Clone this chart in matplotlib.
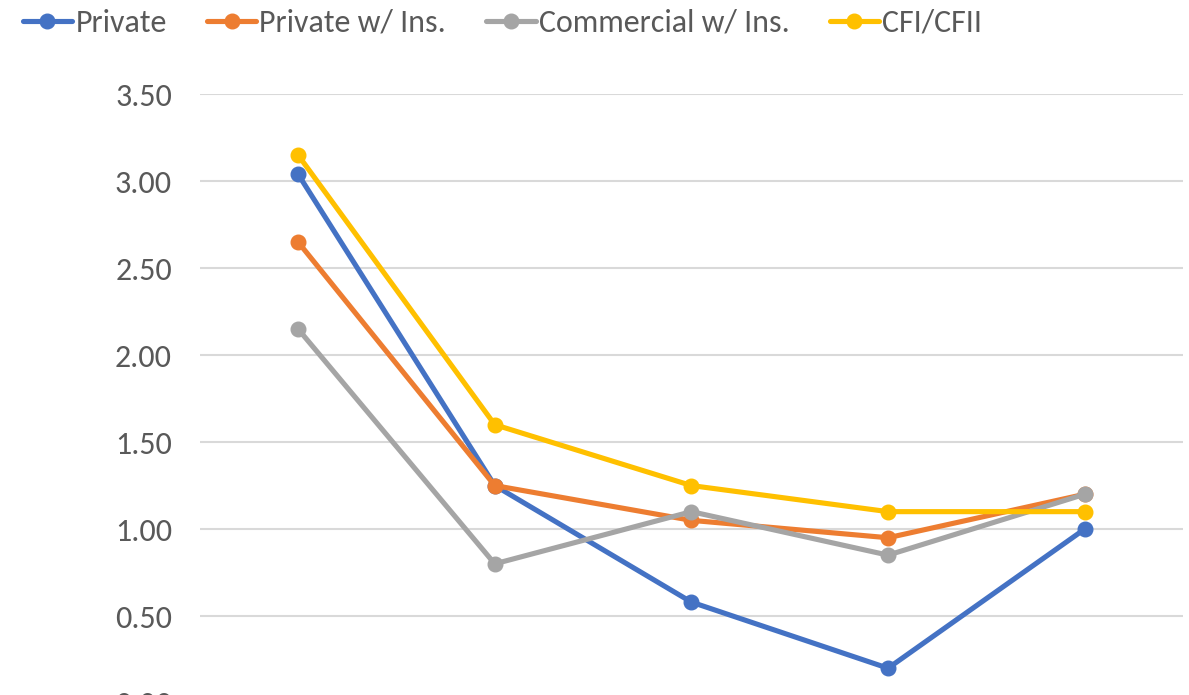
import matplotlib
matplotlib.use("Agg")
import matplotlib.pyplot as plt
import numpy as np

# categories (x labels fall outside the visible crop)
categories = ["1", "2", "3", "4", "5"]

private = [3.04, 1.25, 0.58, 0.20, 1.00]
private_ins = [2.65, 1.25, 1.05, 0.95, 1.20]
commercial_ins = [2.15, 0.80, 1.10, 0.85, 1.20]
cfi_cfii = [3.15, 1.60, 1.25, 1.10, 1.10]

series_names = ["Private", "Private w/ Ins.", "Commercial w/ Ins.", "CFI/CFII"]
series_colors = ["#4472C4", "#ED7D31", "#A5A5A5", "#FFC000"]
yticks = [0.0, 0.5, 1.0, 1.5, 2.0, 2.5, 3.0, 3.5]

plt.rcParams["font.family"] = ["Carlito", "Liberation Sans Narrow", "DejaVu Sans"]

fig = plt.figure(figsize=(11.89, 6.95), dpi=100)
ax = fig.add_axes([0.168, -0.0115, 0.827, 0.876])

x = np.arange(len(categories))
for vals, name, col in zip([private, private_ins, commercial_ins, cfi_cfii],
                           series_names, series_colors):
    ax.plot(x, vals, color=col, lw=3.7, marker="o", markersize=10.5,
            label=name, solid_capstyle="round", clip_on=False)

ax.set_xlim(-0.5, len(categories) - 0.5)
ax.set_ylim(0, 3.5)
ax.set_yticks(yticks)
ax.set_yticklabels([f"{v:.2f}" for v in yticks])
ax.set_xticks([])
ax.grid(axis="y", color="#D9D9D9", lw=1.5)
ax.set_axisbelow(True)
for s in ax.spines.values():
    s.set_visible(False)
ax.tick_params(axis="y", length=0, pad=20, labelsize=23, labelcolor="#595959")

fig.legend(loc="upper left", bbox_to_anchor=(0.003, 1.015), ncol=4, frameon=False,
           fontsize=23, labelcolor="#595959", handlelength=1.55,
           handletextpad=0.1, columnspacing=1.25, borderaxespad=0.2)

fig.savefig("out.png", dpi=100)
